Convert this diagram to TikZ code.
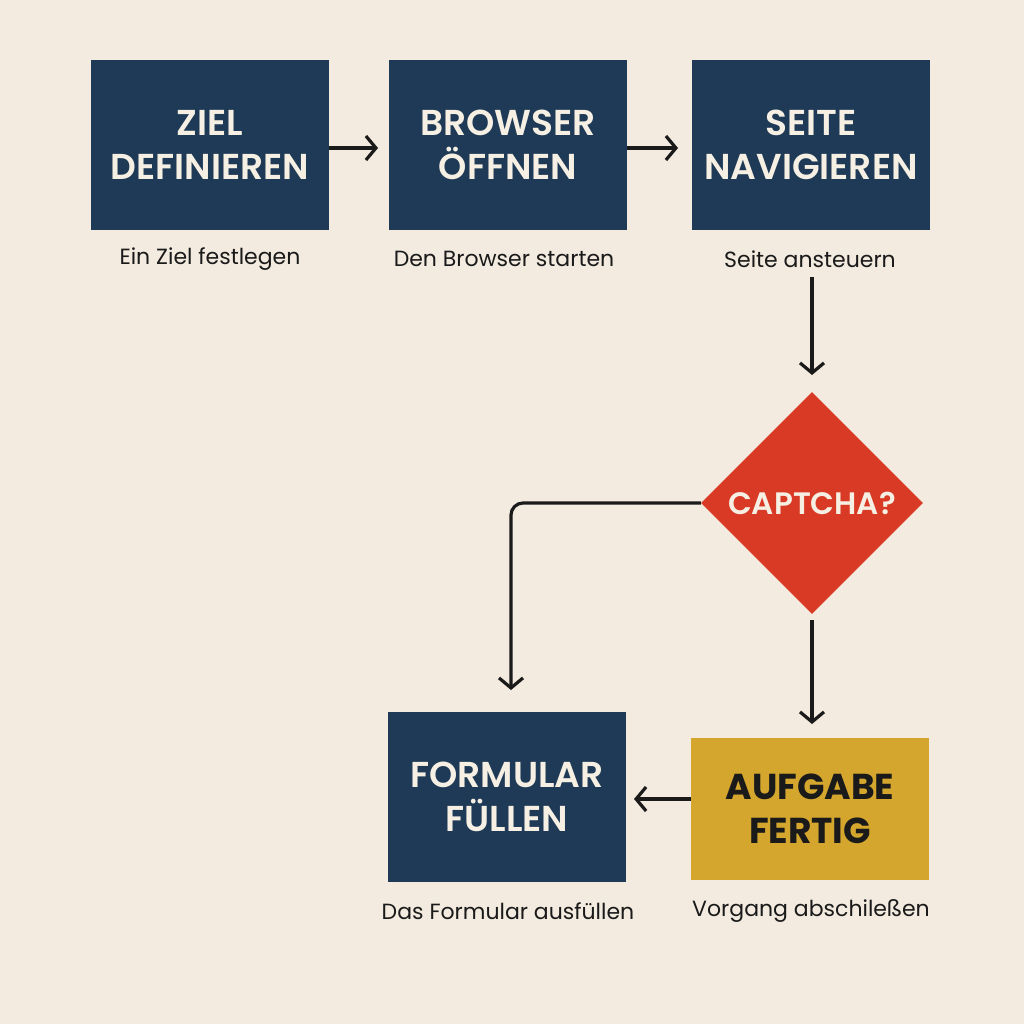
\documentclass[tikz,border=0pt]{standalone}
\usepackage{fontspec}
\setmainfont{Poppins}
\newfontfamily\headfont{Poppins SemiBold}
\newfontfamily\boldfont{Poppins Bold}
\usetikzlibrary{arrows.meta,shapes.geometric}
\definecolor{paper}{HTML}{F3EBDF}
\definecolor{navy}{HTML}{1F3A56}
\definecolor{signal}{HTML}{D93A26}
\definecolor{ochre}{HTML}{D4A62E}
\definecolor{cream}{HTML}{F6EFE3}
\definecolor{ink}{HTML}{1A1A1A}
\begin{document}
\begin{tikzpicture}[x=1pt,y=-1pt,
    box/.style={rectangle,fill=navy,minimum width=238pt,minimum height=170pt,align=center,text=cream,font=\headfont\fontsize{36}{44}\selectfont},
    sub/.style={font=\fontsize{22}{24}\selectfont,text=ink},
    flow/.style={draw=ink,line width=3.2pt,-{Straight Barb[length=10pt,width=24pt,line width=3.2pt]}}]
    \fill[paper] (0,0) rectangle (1024,1024);
    \useasboundingbox (0,0) rectangle (1024,1024);
    \node[box] (a) at (210,145) {ZIEL\\DEFINIEREN};
    \node[box] (b) at (508,145) {BROWSER\\ÖFFNEN};
    \node[box] (c) at (811,145) {SEITE\\NAVIGIEREN};
    \node[diamond,fill=signal,minimum width=222pt,minimum height=222pt,inner sep=0pt,text=cream,font=\headfont\fontsize{31}{34}\selectfont] (d) at (812,503) {CAPTCHA?};
    \node[box] (e) at (507,797) {FORMULAR\\FÜLLEN};
    \node[box,fill=ochre,minimum height=142pt,text=ink,font=\boldfont\fontsize{36}{44}\selectfont] (f) at (810,809) {AUFGABE\\FERTIG};
    \node[sub] (la) at (210,259) {Ein Ziel festlegen};
    \node[sub] (lb) at (504,259) {Den Browser starten};
    \node[sub] (lc) at (810,259) {Seite ansteuern};
    \node[sub] (le) at (508,911) {Das Formular ausfüllen};
    \node[sub] (lf) at (811,911) {Vorgang abschileßen};
    \coordinate (k) at (511,690);
    \draw[flow] (a.east |- 0,148) -- (378,148);
    \draw[flow] (b.east |- 0,148) -- (678,148);
    \draw[flow] (812,277) -- (812,375);
    \draw[flow,rounded corners=12pt] (d.west) -- (511,503) -- (k);
    \draw[flow] (812,620) -- (812,724);
    \draw[flow] (f.west |- 0,799) -- (634,799);
\end{tikzpicture}
\end{document}
